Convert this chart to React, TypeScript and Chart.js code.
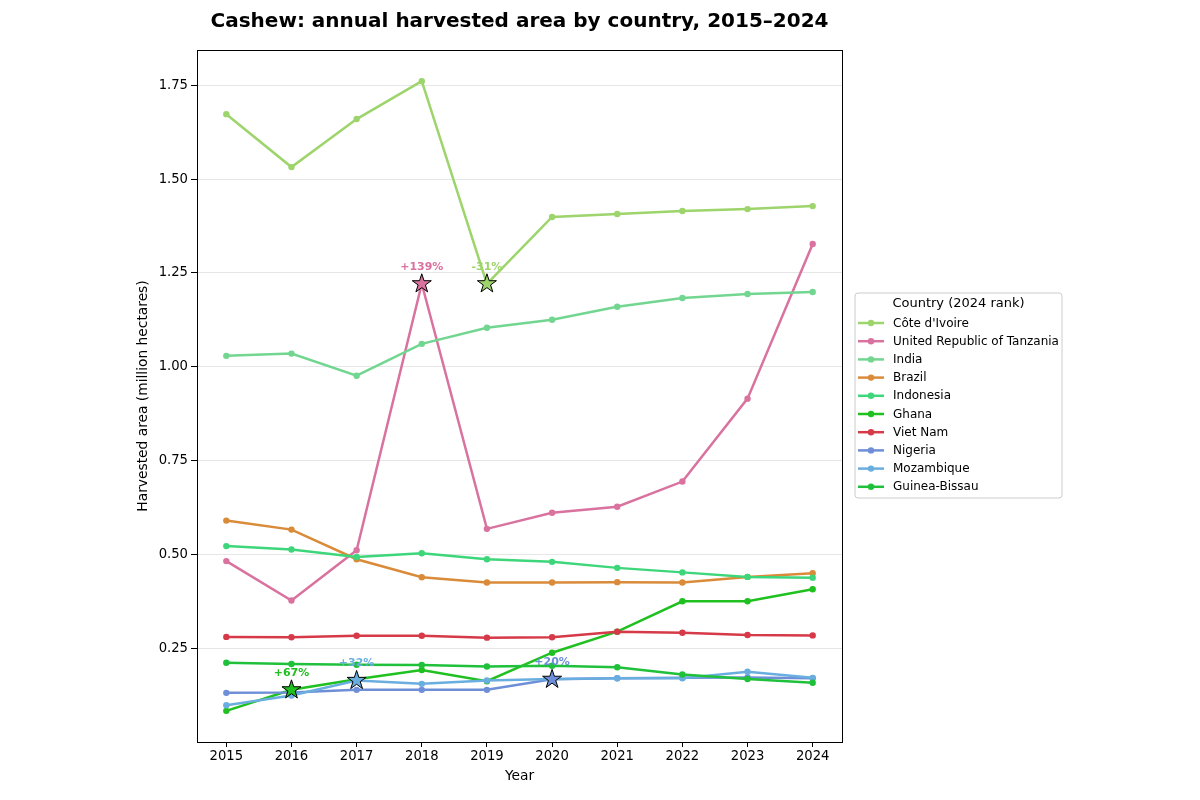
import { useEffect, useRef } from 'react';
import { Chart, registerables } from 'chart.js';

Chart.register(...registerables);

const years = [2015, 2016, 2017, 2018, 2019, 2020, 2021, 2022, 2023, 2024];
const countries = [
  "Côte d'Ivoire",
  'United Republic of Tanzania',
  'India',
  'Brazil',
  'Indonesia',
  'Ghana',
  'Viet Nam',
  'Nigeria',
  'Mozambique',
  'Guinea-Bissau',
];
const coteDIvoire = [1.673, 1.532, 1.66, 1.761, 1.221, 1.399, 1.407, 1.415, 1.42, 1.428];
const tanzania = [0.482, 0.377, 0.511, 1.221, 0.568, 0.611, 0.627, 0.694, 0.915, 1.327];
const india = [1.029, 1.035, 0.976, 1.061, 1.104, 1.125, 1.16, 1.183, 1.194, 1.199];
const brazil = [0.59, 0.566, 0.487, 0.439, 0.425, 0.425, 0.426, 0.425, 0.44, 0.45];
const indonesia = [0.522, 0.513, 0.493, 0.503, 0.487, 0.48, 0.464, 0.452, 0.44, 0.438];
const ghana = [0.083, 0.139, 0.167, 0.192, 0.162, 0.238, 0.294, 0.375, 0.375, 0.407];
const vietNam = [0.28, 0.279, 0.283, 0.283, 0.278, 0.279, 0.294, 0.291, 0.285, 0.284];
const nigeria = [0.131, 0.132, 0.139, 0.139, 0.139, 0.167, 0.17, 0.171, 0.172, 0.17];
const mozambique = [0.098, 0.124, 0.164, 0.155, 0.164, 0.168, 0.17, 0.17, 0.187, 0.171];
const guineaBissau = [0.211, 0.208, 0.206, 0.205, 0.201, 0.203, 0.199, 0.18, 0.168, 0.158];
const seriesValues = [coteDIvoire, tanzania, india, brazil, indonesia, ghana, vietNam, nigeria, mozambique, guineaBissau];
const seriesColors = [
  '#9dd46b',
  '#d9729f',
  '#72d690',
  '#d98b39',
  '#3ed67a',
  '#1fc01f',
  '#d63a48',
  '#6e8fd8',
  '#6aaee0',
  '#1fc13b',
];
const yTicks = [0.25, 0.5, 0.75, 1.0, 1.25, 1.5, 1.75];
const annotYears = [2018, 2019, 2016, 2017, 2020];
const annotCountries = ['United Republic of Tanzania', "Côte d'Ivoire", 'Ghana', 'Mozambique', 'Nigeria'];
const annotLabels = ['+139%', '-31%', '+67%', '+32%', '+20%'];

const titleText = 'Cashew: annual harvested area by country, 2015–2024';
const legendTitle = 'Country (2024 rank)';
const FONT = "'DejaVu Sans', sans-serif";

function drawStar(ctx: CanvasRenderingContext2D, x: number, y: number, R: number, fill: string) {
  const r = R * 0.382;
  ctx.beginPath();
  for (let i = 0; i < 10; i++) {
    const rad = i % 2 === 0 ? R : r;
    const a = -Math.PI / 2 + (i * Math.PI) / 5;
    const px = x + rad * Math.cos(a);
    const py = y + rad * Math.sin(a);
    if (i === 0) ctx.moveTo(px, py);
    else ctx.lineTo(px, py);
  }
  ctx.closePath();
  ctx.fillStyle = fill;
  ctx.fill();
  ctx.lineWidth = 1;
  ctx.strokeStyle = '#000';
  ctx.stroke();
}

const extrasPlugin = {
  id: 'extras',
  afterDatasetsDraw(chart: any) {
    const ctx = chart.ctx as CanvasRenderingContext2D;
    const xs = chart.scales.x;
    const ys = chart.scales.y;
    const area = chart.chartArea;
    ctx.save();
    ctx.strokeStyle = '#000';
    ctx.lineWidth = 1;
    ctx.strokeRect(Math.round(area.left) + 0.5, Math.round(area.top) + 0.5, Math.round(area.right - area.left), Math.round(area.bottom - area.top));
    for (let i = 0; i < annotYears.length; i++) {
      const ci = countries.indexOf(annotCountries[i]);
      const yi = years.indexOf(annotYears[i]);
      const v = seriesValues[ci][yi];
      const px = xs.getPixelForValue(annotYears[i]);
      const py = ys.getPixelForValue(v);
      drawStar(ctx, px, py, 10, seriesColors[ci]);
      ctx.fillStyle = seriesColors[ci];
      ctx.font = `bold 11px ${FONT}`;
      ctx.textAlign = 'center';
      ctx.textBaseline = 'middle';
      ctx.fillText(annotLabels[i], px, py - 17);
    }
    ctx.restore();
  },
  afterDraw(chart: any) {
    const ctx = chart.ctx as CanvasRenderingContext2D;
    const area = chart.chartArea;
    ctx.save();
    ctx.fillStyle = '#000';
    ctx.font = `bold 20px ${FONT}`;
    ctx.textAlign = 'center';
    ctx.textBaseline = 'middle';
    ctx.fillText(titleText, (area.left + area.right) / 2, 22);
    const bx = 855, by = 293, bw = 207, bh = 205;
    ctx.beginPath();
    const rr = 3;
    ctx.moveTo(bx + rr, by);
    ctx.lineTo(bx + bw - rr, by);
    ctx.quadraticCurveTo(bx + bw, by, bx + bw, by + rr);
    ctx.lineTo(bx + bw, by + bh - rr);
    ctx.quadraticCurveTo(bx + bw, by + bh, bx + bw - rr, by + bh);
    ctx.lineTo(bx + rr, by + bh);
    ctx.quadraticCurveTo(bx, by + bh, bx, by + bh - rr);
    ctx.lineTo(bx, by + rr);
    ctx.quadraticCurveTo(bx, by, bx + rr, by);
    ctx.closePath();
    ctx.fillStyle = 'rgba(255,255,255,0.8)';
    ctx.fill();
    ctx.strokeStyle = '#cccccc';
    ctx.lineWidth = 1;
    ctx.stroke();
    ctx.fillStyle = '#000';
    ctx.font = `13px ${FONT}`;
    ctx.textAlign = 'center';
    ctx.fillText(legendTitle, bx + bw / 2, 304);
    ctx.font = `12px ${FONT}`;
    ctx.textAlign = 'left';
    for (let i = 0; i < countries.length; i++) {
      const y = 323 + i * 18.2;
      ctx.strokeStyle = seriesColors[i];
      ctx.lineWidth = 2.5;
      ctx.beginPath();
      ctx.moveTo(858, y);
      ctx.lineTo(884, y);
      ctx.stroke();
      ctx.fillStyle = seriesColors[i];
      ctx.beginPath();
      ctx.arc(871, y, 3.2, 0, Math.PI * 2);
      ctx.fill();
      ctx.fillStyle = '#000';
      ctx.fillText(countries[i], 893, y + 0.5);
    }
    ctx.restore();
  },
};

export default function App() {
  const ref = useRef<HTMLCanvasElement | null>(null);
  useEffect(() => {
    if (!ref.current) return;
    Chart.defaults.font.family = FONT;
    Chart.defaults.color = '#000';
    const datasets = countries.map((name, i) => ({
      label: name,
      data: years.map((yr, j) => ({ x: yr, y: seriesValues[i][j] })),
      borderColor: seriesColors[i],
      backgroundColor: seriesColors[i],
      borderWidth: 2.5,
      pointRadius: 3.2,
      pointHoverRadius: 3.2,
      pointBorderWidth: 0,
      tension: 0,
      order: countries.length - i,
    }));
    const chart = new Chart(ref.current, {
      type: 'line',
      data: { datasets },
      plugins: [extrasPlugin],
      options: {
        responsive: false,
        animation: false,
        events: [],
        layout: { padding: { left: 0, top: 50, right: 358, bottom: 0 } },
        plugins: {
          legend: { display: false },
          title: { display: false },
          tooltip: { enabled: false },
        },
        scales: {
          x: {
            type: 'linear',
            min: 2014.55,
            max: 2024.45,
            afterFit: (s: any) => {
              s.height = 58;
            },
            afterBuildTicks: (s: any) => {
              s.ticks = years.map((v) => ({ value: v }));
            },
            ticks: {
              callback: (v: any) => String(v),
              font: { size: 13.2 },
              color: '#000',
              padding: 2,
              maxRotation: 0,
              autoSkip: false,
            },
            grid: {
              drawOnChartArea: false,
              drawTicks: true,
              tickLength: 5,
              tickColor: '#000',
              tickWidth: 1,
            },
            border: { display: true, color: '#000', width: 1 },
            title: {
              display: true,
              text: 'Year',
              font: { size: 13.8 },
              color: '#000',
              padding: { top: 0, bottom: 15 },
            },
          },
          y: {
            type: 'linear',
            min: 0.0,
            max: 1.844,
            afterFit: (s: any) => {
              s.width = 197;
            },
            afterBuildTicks: (s: any) => {
              s.ticks = yTicks.map((v) => ({ value: v }));
            },
            ticks: {
              callback: (v: any) => Number(v).toFixed(2),
              font: { size: 13.2 },
              color: '#000',
              padding: 3,
            },
            grid: {
              color: '#e6e6e6',
              lineWidth: 1,
              drawTicks: true,
              tickLength: 6,
              tickColor: '#000',
              tickWidth: 1,
            },
            border: { display: true, color: '#000', width: 1 },
            title: {
              display: true,
              text: 'Harvested area (million hectares)',
              font: { size: 13.8 },
              color: '#000',
              padding: { top: 134.7, bottom: 0 },
            },
          },
        },
      },
    });
    return () => chart.destroy();
  }, []);
  return (
    <div style={{ position: 'absolute', left: 0, top: 0, width: 1200, height: 800, background: '#fff' }}>
      <canvas ref={ref} width={1200} height={800} style={{ width: 1200, height: 800, display: 'block' }} />
    </div>
  );
}
